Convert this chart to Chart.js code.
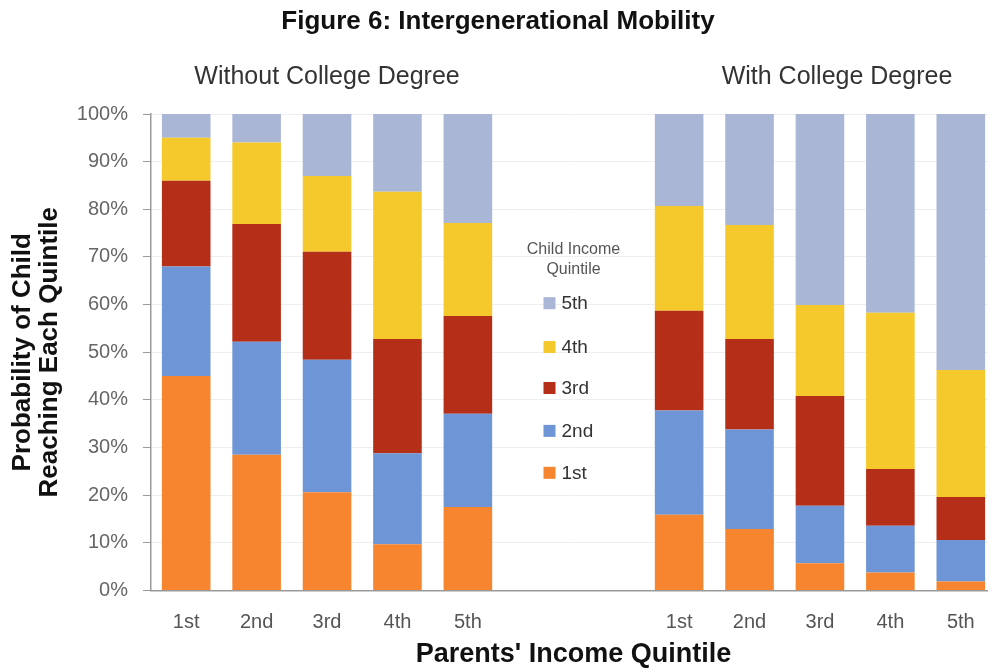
<!DOCTYPE html>
<html>
<head>
<meta charset="utf-8">
<script src="https://cdn.jsdelivr.net/npm/chart.js@4/dist/chart.umd.min.js"></script>
<style>
  html, body { margin: 0; padding: 0; background: #fff; overflow: hidden; }
  #wrap { width: 1000px; height: 670px; position: relative; }
</style>
</head>
<body>
<div id="wrap"><canvas id="c"></canvas></div>
<script>
// ---- Data ----
const parentQuintiles = ['1st', '2nd', '3rd', '4th', '5th'];
const childQuintiles = ['1st', '2nd', '3rd', '4th', '5th'];
const groupTitles = ['Without College Degree', 'With College Degree'];
const yTicks = [0, 10, 20, 30, 40, 50, 60, 70, 80, 90, 100];

// Without college degree (share of children reaching each quintile, %), by parents' quintile
const noDeg1st = [45.0, 28.5, 20.6, 9.7, 17.5];
const noDeg2nd = [23.0, 23.7, 27.8, 19.1, 19.6];
const noDeg3rd = [18.0, 24.7, 22.7, 24.0, 20.5];
const noDeg4th = [9.0, 17.1, 15.9, 30.9, 19.5];
const noDeg5th = [5.0, 6.0, 13.0, 16.3, 22.9];

// With college degree
const deg1st = [15.9, 12.9, 5.7, 3.8, 1.9];
const deg2nd = [21.9, 20.9, 12.1, 9.8, 8.7];
const deg3rd = [20.9, 19.0, 23.0, 11.9, 9.0];
const deg4th = [22.0, 23.9, 19.1, 32.8, 26.7];
const deg5th = [19.3, 23.3, 40.1, 41.7, 53.7];

const colors = ['#f7842f', '#6e95d5', '#b52e17', '#f5c92b', '#a9b6d5'];

// Two empty slots separate the groups
const gap = ['', ''];
const labels = [...parentQuintiles, ...gap, ...parentQuintiles];
const join = (a, b) => [...a, null, null, ...b];
const seriesNoDeg = [noDeg1st, noDeg2nd, noDeg3rd, noDeg4th, noDeg5th];
const seriesDeg = [deg1st, deg2nd, deg3rd, deg4th, deg5th];

const datasets = childQuintiles.map((q, i) => ({
  label: q,
  data: join(seriesNoDeg[i], seriesDeg[i]),
  backgroundColor: colors[i],
  borderWidth: 0,
  categoryPercentage: 1.0,
  barPercentage: 0.69
}));

const FONT = '"Liberation Sans", Arial, Helvetica, sans-serif';

const decorPlugin = {
  id: 'decor',
  afterDraw(chart) {
    const ctx = chart.ctx;
    const x = chart.scales.x, y = chart.scales.y;
    ctx.save();
    // group subtitles
    ctx.fillStyle = '#333';
    ctx.font = '25px ' + FONT;
    ctx.textAlign = 'center';
    ctx.textBaseline = 'middle';
    ctx.fillText(groupTitles[0], x.getPixelForValue(2), 77);
    ctx.fillText(groupTitles[1], x.getPixelForValue(9) + 17, 77);

    // legend in the gap
    const cx = (x.getPixelForValue(5) + x.getPixelForValue(6)) / 2;
    ctx.fillStyle = '#555';
    ctx.font = '16px ' + FONT;
    ctx.fillText('Child Income', cx, y.getPixelForValue(71.5));
    ctx.fillText('Quintile', cx, y.getPixelForValue(67.3));
    const itemVals = [24.7, 33.5, 42.5, 51.1, 60.3];
    ctx.textAlign = 'left';
    ctx.font = '19px ' + FONT;
    for (let i = childQuintiles.length - 1; i >= 0; i--) {
      const py = y.getPixelForValue(itemVals[i]);
      ctx.fillStyle = colors[i];
      ctx.fillRect(cx - 30, py - 6, 12, 12);
      ctx.fillStyle = '#333';
      ctx.fillText(childQuintiles[i], cx - 12, py + 1);
    }
    ctx.restore();
  }
};

new Chart(document.getElementById('c'), {
  type: 'bar',
  data: { labels, datasets },
  plugins: [decorPlugin],
  options: {
    responsive: true,
    maintainAspectRatio: false,
    animation: false,
    layout: { padding: { left: 0, right: 4, top: 0, bottom: 0 } },
    plugins: {
      legend: { display: false },
      tooltip: { enabled: false },
      title: {
        display: true,
        text: 'Figure 6: Intergenerational Mobility',
        color: '#111',
        font: { family: FONT, size: 26, weight: 'bold', lineHeight: 1.2 },
        padding: { top: 6, bottom: 76.8 }
      }
    },
    scales: {
      x: {
        stacked: true,
        grid: { display: false, drawTicks: false },
        border: { display: true, color: '#9a9a9a', width: 1.5 },
        ticks: { color: '#555', font: { family: FONT, size: 20 }, padding: 20, maxRotation: 0, autoSkip: false },
        title: {
          display: true,
          text: "Parents' Income Quintile",
          color: '#111',
          font: { family: FONT, size: 27, weight: 'bold', lineHeight: 1.0 },
          padding: { top: 0, bottom: 1.5 }
        },
        afterFit(scale) { scale.height = 79.5; }
      },
      y: {
        stacked: true,
        min: 0,
        max: 100,
        afterBuildTicks(scale) { scale.ticks = yTicks.map(v => ({ value: v })); },
        ticks: {
          color: '#666',
          font: { family: FONT, size: 20 },
          padding: 15,
          callback: v => v + '%'
        },
        grid: { color: '#eeeeee', lineWidth: 1, drawTicks: true, tickLength: 8, tickColor: '#9a9a9a' },
        border: { display: true, color: '#9a9a9a', width: 1.5 },
        title: {
          display: true,
          text: ['Probability of Child', 'Reaching Each Quintile'],
          color: '#111',
          font: { family: FONT, size: 26, weight: 'bold', lineHeight: 1.04 },
          padding: { top: 9.5, bottom: 0 }
        },
        afterFit(scale) { scale.width = 151; }
      }
    }
  }
});
</script>
</body>
</html>
